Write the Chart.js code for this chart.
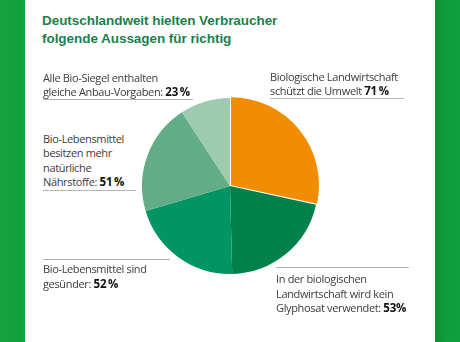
<!DOCTYPE html>
<html>
<head>
<meta charset="utf-8">
<script src="https://cdn.jsdelivr.net/npm/chart.js@4.4.1/dist/chart.umd.min.js"></script>
<style>
  html, body { margin: 0; padding: 0; }
  body { width: 460px; height: 342px; position: relative; overflow: hidden; background: #ffffff; }
  .barL { position: absolute; left: 0; top: 0; width: 25px; height: 342px;
          background: linear-gradient(to right, #17a23f, #10a03c 80%, #1aa545); }
  .barR { position: absolute; left: 435px; top: 0; width: 25px; height: 342px;
          background: linear-gradient(to right, #0a8f35, #0f9c3d 40%, #10a03e); }
  .title { position: absolute; left: 42px; top: 12px; font-family: "Liberation Sans", Arial, sans-serif;
           font-weight: bold; font-size: 13.5px; line-height: 17.5px; color: #1b7f4c; white-space: nowrap;
           letter-spacing: -0.05px; }
  .lab { position: absolute; font-family: "Open Sans", "Noto Sans", sans-serif; font-size: 11px;
         line-height: 14.6px; color: #3c3c3c; white-space: nowrap; letter-spacing: -0.35px; }
  .lab b { color: #111; font-weight: bold; font-size: 11.5px; letter-spacing: -0.2px; }
  .rule { position: absolute; height: 0; border-top: 1.5px solid #b4b4b4; }
  #wrap { position: absolute; left: 130px; top: 86px; width: 200px; height: 200px; }
</style>
</head>
<body>
<div class="barL"></div>
<div class="barR"></div>
<div class="title">Deutschlandweit hielten Verbraucher<br>folgende Aussagen für richtig</div>
<div id="wrap"><canvas id="c" width="200" height="200"></canvas></div>
<div id="labels"></div>
<script>
// ---- data ----
const categories = [
  "Biologische Landwirtschaft schützt die Umwelt",
  "In der biologischen Landwirtschaft wird kein Glyphosat verwendet",
  "Bio-Lebensmittel sind gesünder",
  "Bio-Lebensmittel besitzen mehr natürliche Nährstoffe",
  "Alle Bio-Siegel enthalten gleiche Anbau-Vorgaben"
];
const values = [71, 53, 52, 51, 23];
const labelLines = [
  ["Biologische Landwirtschaft", "schützt die Umwelt "],
  ["In der biologischen", "Landwirtschaft wird kein", "Glyphosat verwendet: "],
  ["Bio-Lebensmittel sind", "gesünder: "],
  ["Bio-Lebensmittel", "besitzen mehr", "natürliche", "Nährstoffe: "],
  ["Alle Bio-Siegel enthalten", "gleiche Anbau-Vorgaben: "]
];
const percentSuffix = ["\u2009%", "%", "\u2009%", "\u2009%", "\u2009%"];

// ---- styles / layout (not data) ----
const sliceColors = ["#f28c00", "#00804a", "#009563", "#62ad87", "#9ecab1"];
const labelPos = [
  {x: 270, y: 69.5, rule: {x: 270, y: 98,  w: 134}},
  {x: 276, y: 272, rule: {x: 276, y: 267, w: 133}},
  {x: 43,  y: 262, rule: {x: 43,  y: 259, w: 127}},
  {x: 43,  y: 131.5, rule: {x: 43,  y: 189.5, w: 93}},
  {x: 43,  y: 70.5, rule: {x: 43,  y: 99,  w: 150}}
];

const host = document.getElementById('labels');
labelLines.forEach((lines, i) => {
  const d = document.createElement('div');
  d.className = 'lab';
  d.style.left = labelPos[i].x + 'px';
  d.style.top = labelPos[i].y + 'px';
  d.innerHTML = lines.map((l, k) => k === lines.length - 1
      ? l + '<b>' + values[i] + percentSuffix[i] + '</b>' : l).join('<br>');
  host.appendChild(d);
  const r = document.createElement('div');
  r.className = 'rule';
  r.style.left = labelPos[i].rule.x + 'px';
  r.style.top = labelPos[i].rule.y + 'px';
  r.style.width = labelPos[i].rule.w + 'px';
  host.appendChild(r);
});

new Chart(document.getElementById('c'), {
  type: 'pie',
  data: {
    labels: categories,
    datasets: [{
      data: values,
      backgroundColor: sliceColors,
      borderWidth: 0,
      offset: [5, 0, 0, 0, 0]
    }]
  },
  options: {
    responsive: false,
    animation: false,
    radius: 88,
    layout: { padding: 0 },
    plugins: { legend: { display: false }, tooltip: { enabled: false } }
  }
});
</script>
</body>
</html>
